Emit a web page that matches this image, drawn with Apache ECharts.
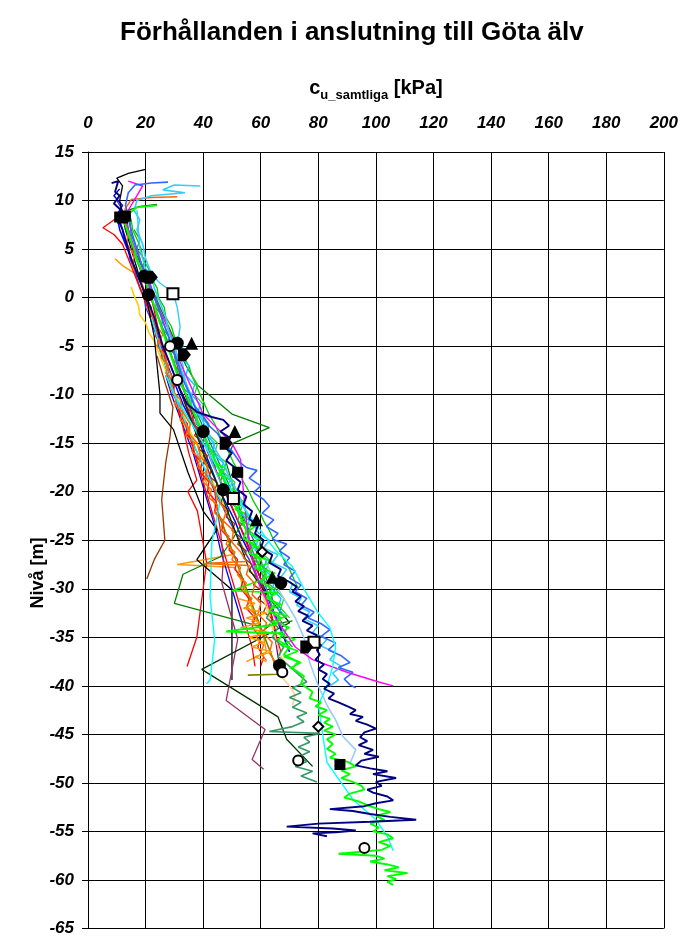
<!DOCTYPE html>
<html><head><meta charset="utf-8">
<script src="https://cdn.jsdelivr.net/npm/echarts/dist/echarts.min.js"></script>
<style>html,body{margin:0;padding:0;background:#fff}#c{width:681px;height:937px}</style>
</head><body><div id="c"></div>
<script>
// ---- axis ticks ----
const xTicks = [0,20,40,60,80,100,120,140,160,180,200];
const yTicks = [15,10,5,0,-5,-10,-15,-20,-25,-30,-35,-40,-45,-50,-55,-60,-65];

// ---- line series: [cu (kPa), level (m)] ----
const navy = [[8.2,11.8],[10.5,12],[9.4,10.9],[11,10.5],[9,9.7],[11.5,9],[10.5,8],[12,7],[13.5,5.5],[15,4],[17,2.5],[19,1],[21,-0.5],[23,-2],[24.5,-3.5],[26,-5],[28,-6.5],[30,-8],[32,-9.5],[34.5,-11],[38,-11.8],[43,-12.3],[47,-12.6],[49,-13.2],[46,-13.8],[49.5,-14.5],[46.5,-15.2],[50,-16],[48,-16.8],[51,-17.5],[50,-18.3],[53,-19],[52,-19.8],[55,-20.5],[54,-21.3],[57,-22],[56,-22.8],[59,-23.5],[58,-24.3],[61,-25],[60,-25.8],[64,-26.5],[63,-27.3],[67,-28],[66,-28.7],[70,-29.3],[72.5,-29.8],[71,-30.3],[74,-30.8],[72,-31.3],[75,-31.8],[73,-32.3],[76.5,-32.8],[74.5,-33.3],[78,-33.8],[76,-34.3],[79.5,-34.8],[78,-35.3],[81,-35.8],[79.5,-36.3],[80.5,-36.8],[79,-37.3],[82,-37.8],[80,-38.3],[83,-38.8],[81.5,-39.3],[84,-39.8],[82,-40.3],[85.5,-40.8],[83.5,-41.3],[87,-41.7],[90,-42.1],[93,-42.5],[91,-42.9],[95.5,-43.2],[93,-43.6],[97,-44],[100,-44.4],[96,-44.8],[94.5,-45.3],[97,-45.7],[94,-46.1],[99,-46.6],[96,-47],[101,-47.3],[95,-47.7],[93,-48.2],[98,-48.5],[104,-48.8],[99,-49.1],[107,-49.5],[100,-49.9],[102,-50.3],[97,-50.7],[99,-51],[104,-51.4],[106,-51.8],[100,-52.1],[96,-52.4],[84,-52.7],[92,-52.9],[98,-53.2],[105,-53.5],[114,-53.8],[98,-54],[80,-54.2],[69,-54.5],[85,-54.7],[93,-54.9],[86,-55.1],[78,-55.2],[83,-55.5]];
const lime = [[24,9.5],[17,9.3],[14,8.6],[13,7.5],[14.5,6.2],[16,5],[17,3.8],[19,2.6],[20.5,1.3],[22,0],[23.5,-1.3],[25,-2.6],[26.5,-4],[28,-5.3],[29.5,-6.6],[31,-8],[33,-9.3],[35,-10.6],[37,-12],[39,-13.3],[41,-14.6],[43,-16],[45,-17.3],[47,-18.6],[49,-20],[51,-21.3],[53,-22.6],[55,-24],[54,-24.8],[58,-25.5],[56,-26.3],[60,-27],[58,-27.8],[62,-28.5],[60,-29.3],[64,-30],[62,-30.8],[65,-31.5],[63,-32.3],[67,-33],[65,-33.7],[48,-34.4],[68,-34.6],[66,-35.3],[70,-36],[68,-36.8],[73,-37.5],[71,-38.2],[75,-39],[74,-39.8],[78,-40.6],[77,-41.3],[81,-41.7],[79,-42.1],[83,-42.5],[80,-43],[84,-43.4],[82,-43.8],[85,-44.2],[82,-44.6],[86,-45],[83,-45.5],[85,-46],[83,-46.5],[86,-47],[84,-47.4],[90,-47.8],[93,-48.3],[88,-48.7],[91,-49.1],[88,-49.5],[92,-49.9],[95,-50.3],[96,-50.7],[91,-51.1],[89,-51.5],[94,-51.9],[97,-52.3],[101,-52.7],[105,-53],[100,-53.4],[103,-53.8],[98,-54.2],[101,-54.6],[99,-55],[104,-55.3],[106,-55.7],[101,-56.1],[105,-56.5],[102,-56.9],[87,-57.3],[100,-57.5],[103,-57.8],[98,-58.1],[104,-58.4],[108,-58.7],[103,-59],[111,-59.3],[104,-59.6],[107,-59.9],[104,-60.2],[106,-60.5]];
const lime2 = [[44,-17],[48,-17.6],[45,-18.2],[50,-18.8],[47,-19.4],[52,-20],[49,-20.6],[54,-21.2],[51,-21.8],[56,-22.4],[53,-23],[58,-23.6],[55,-24.2],[60,-24.8],[56,-25.4],[62,-26],[58,-26.6],[64,-27.2],[59,-27.8],[65,-28.4],[61,-29],[50,-30.2],[66,-30.4],[62,-31],[67,-31.6],[63,-32.2],[69,-32.8],[64,-33.4],[70,-34],[66,-34.6],[72,-35.2],[67,-35.8],[73,-36.4],[68,-37],[74,-37.6],[70,-38.2]];
const royal = [[27.8,11.9],[22,11.8],[16.3,11.6],[14,10.8],[13,9.5],[14.5,8],[15,6.5],[17,5],[18.5,3.5],[21,2],[22.5,0.5],[24.5,-1],[26,-2.5],[28,-4],[29.5,-5.5],[31.5,-7],[33,-8.5],[35.5,-10],[37,-11.2],[40,-12.2],[42,-13.2],[45,-14],[47,-15],[50,-15.8],[52.8,-17],[55,-17.5],[58.7,-17.8],[56,-18.6],[60,-19.4],[57.5,-20.1],[61,-20.8],[63,-21.5],[60.5,-22.2],[64.5,-22.9],[62,-23.6],[66,-24.3],[64,-24.9],[69,-25.4],[66.5,-26.1],[70,-26.8],[68,-27.5],[72,-28.2],[70,-28.9],[74,-29.6],[72,-30.3],[76,-31],[74,-31.7],[78.5,-32.4],[76.5,-33],[81,-33.6],[84,-34.2],[81,-34.9],[86,-35.6],[83.5,-36.3],[88,-36.9],[91,-37.6],[87,-38.1],[92,-38.6],[89,-39.3],[91,-39.9],[93,-40.2]];
const sky = [[39,11.5],[30,11.6],[26,11.1],[33.7,10.8],[22,10.5],[17,10],[16,9],[18,8],[17,7],[19,5.5],[20,4],[22,2.5],[23,1],[25,-0.5],[27,-2],[28,-3.5],[30,-5],[31.5,-6.5],[33,-8],[35,-9.5],[37,-11],[39.5,-12.5],[42,-14],[44,-15.5],[47,-17],[49,-18.5],[52,-20],[54,-21.5],[57,-23],[59,-24.2],[63,-25],[61,-25.8],[66,-26.5],[64,-27.3],[69,-28],[67,-28.8],[71,-29.5],[70,-30.3],[74,-31],[72.5,-31.7],[77,-32.4],[75,-33.1],[80,-33.8],[78,-34.5],[83,-35.2],[81,-35.9],[86,-36.6],[84,-37.3],[88,-38],[85,-38.7],[87,-39.4],[84,-40]];
const skyB = [[17,9],[17.5,7],[18,5],[20,3],[25,1.5],[29.5,0.5],[31,-1],[32,-3],[31,-5],[33,-7],[34,-9],[36,-11],[38,-13],[41,-15],[43,-17],[46,-19]];
const skyC = [[31,-4],[33,-5],[32,-6],[35,-7],[34,-8],[37,-9],[36,-10],[39,-11],[38,-12],[41.5,-13],[40.5,-14],[44,-15],[43,-16],[47,-17],[46,-18],[50,-19],[49,-20],[53,-21],[52,-22],[56,-23],[55,-24],[59,-25],[58,-26],[62,-27],[61,-28],[65,-29],[64,-30],[67,-31],[66,-32],[69,-33]];
const cyanR = [[27,-8],[30,-10],[34,-12],[38,-14],[42,-16],[46,-18],[50,-20],[55,-22],[60,-24],[65,-26],[71,-27.7],[75,-30],[80,-32.5],[84,-34],[86,-36],[85,-38],[83,-40],[80,-42],[81,-44],[83,-47.9],[88,-50],[92,-51.7],[100,-53.8],[104,-55.5],[106,-57]];
const cyanL = [[22,-2],[26,-6],[30,-10],[34,-13],[38,-16],[42,-18.5],[46,-20.8],[43,-25.3],[42.4,-30.8],[44,-35.3],[42.4,-39.4],[41.2,-39.8]];
const magenta = [[14,12],[19,11.5],[17,10.5],[14,9],[13,8],[15,6],[18,4],[20,2],[23,0],[26,-2],[29,-4],[31,-6],[34,-8],[37,-10],[40,-12],[45,-13.5],[50,-15],[53,-16.7],[54,-20],[55,-23],[57,-27],[60,-30],[65.5,-33.2],[72,-36],[78,-37.3],[90,-38.6],[101,-39.6],[106,-40]];
const green = [[24,9.6],[18,9.4],[14,9],[13,7],[16,5],[19,3],[22,1],[25,-1],[28,-3],[31,-5],[34,-7],[38,-9],[42,-10],[46,-11],[50,-12],[63,-13.4],[50.5,-15],[48,-17],[50,-19],[52,-21],[54,-23],[50,-25],[46,-26.7],[33,-28.5],[30,-31.5],[60,-33.9],[71,-33.3]];
const darkGreen = [[30,-8],[35,-12],[40,-16],[46,-20],[51,-24],[56,-28],[63,-31],[70,-33.5],[39.5,-38.3],[66,-43.2],[69,-45.5],[78,-48.3]];
const seaGreen = [[13,8],[15,6],[17,4],[19.5,2],[22,0],[24.5,-2],[27,-4],[29,-6],[31.5,-8],[34,-10],[37,-12],[40,-14],[43,-16],[46,-18],[49,-20],[52,-22],[55,-24],[57,-26],[60,-28],[62,-30],[64,-32],[62,-33],[66,-34],[64,-35],[68,-36],[66,-37],[70,-38],[76,-39.6],[71,-40.2],[74,-40.7],[70,-41.2],[74,-41.7],[71,-42.2],[76,-42.8],[72.5,-43.2],[75,-43.7],[71,-44.2],[63,-44.7],[80.6,-44.9],[75,-45.3],[77,-45.8],[73,-46.3],[77,-46.8],[73,-47.3],[76,-47.8],[72,-48.3],[78,-48.8],[74,-49.3],[79.5,-49.9]];
const maroon = [[30,-6],[33,-9],[36,-12],[40,-16],[44,-20],[46,-24],[47,-27],[46.5,-29.4],[52,-35.2],[48,-41.5],[61.5,-44.5],[57,-47.6],[61,-48.6]];
const redL = [[22,0],[25,-4],[28,-8],[32,-12],[35,-16],[37.8,-18.8],[34.7,-20],[38,-22],[41.2,-27.3],[40,-30],[37.8,-35],[34.4,-38]];
const red = [[12,9],[9,8],[5.2,7.2],[9,6.5],[12,5.5],[14,4],[16,2.5],[18,1],[20,-0.5],[22,-2],[24,-3.5],[26,-5],[28,-6.5],[30,-8],[32,-9.5],[34,-11],[36,-12.5],[38.5,-14],[41,-15.5],[43,-17],[45.5,-18.5],[47.5,-20],[50,-21.5],[52,-23],[54,-24.5],[56,-26],[58,-27.5],[60,-29],[61.5,-30.5],[63,-32],[64.5,-33.5],[65.5,-35],[67,-36.5]];
const red2 = [[20,0],[22,-1],[21.5,-2],[24,-3],[23.5,-4],[26,-5],[25.5,-6],[28,-7],[27.5,-8],[30,-9],[29.5,-10],[32,-11],[31.5,-12],[34.5,-13],[34,-14],[37,-15],[36.5,-16],[39.5,-17],[39,-18],[42,-19],[41.5,-20],[44.5,-21],[44,-22],[47,-23],[46.5,-24],[49.5,-25],[49,-26],[52,-27],[51,-28],[54,-29],[53,-30],[56,-31],[55,-32],[58,-33],[57,-34],[60,-35],[59,-36],[61,-37],[60,-38]];
const red3 = [[26,-6],[28,-8],[30,-10],[32.5,-12],[35,-14],[37,-16],[39,-18],[41,-20],[43,-22],[45,-24],[47,-26],[49,-28],[51,-30],[53,-32],[55,-34],[57,-36],[58,-38]];
const brownL = [[24,-6],[27,-9],[29.5,-11.3],[28.5,-14.3],[27,-17],[25.6,-20.8],[26.7,-25],[23,-27],[20.4,-29]];
const brown2 = [[34,-10],[36,-10.7],[34.5,-11.4],[37,-12.1],[35.5,-12.8],[38.5,-13.5],[37,-14.2],[40,-14.9],[38.5,-15.6],[41.5,-16.3],[40,-17],[43,-17.7],[42,-18.4],[45,-19.1],[44,-19.8],[47,-20.5],[46,-21.2],[49,-21.9],[48,-22.6],[51,-23.3],[50,-24],[53,-24.7],[52,-25.4],[55,-26.1],[54,-26.8],[57,-27.5],[56,-28.2],[59,-28.9],[57.5,-29.6],[61,-30.3],[59,-31],[62,-31.7],[61,-32.4],[64,-33.1],[63,-33.8],[60,-34.5]];
const blackL = [[20,13.2],[14,12.8],[10,12.3],[12,11.5],[11,10],[12,8.5],[13,7],[15,5],[17,3],[19,1],[21,-1],[23,-4],[24,-7],[25,-10],[25,-11.9],[29.7,-13.6],[34.7,-18],[40,-22],[44.8,-23.9],[37.8,-27],[50,-30.1],[50,-39.4]];
const blue = [[11,11.2],[9,10.5],[12,9.5],[10,8.5],[11,7],[13,5.5],[15,4],[17,2.5],[19,1],[21,-0.5],[22.5,-2],[24,-3.5],[25.5,-5],[27,-6.5],[29,-8],[31,-9.5],[33,-11],[35.5,-12.5],[38,-14],[40,-15.5],[42,-17],[44,-18.5],[46,-20],[48.5,-21.5],[51,-23],[53,-24.5],[55.5,-26],[58,-27.5],[60,-29],[62,-30.5],[64,-32],[66,-33.5],[68,-35],[70,-36.5]];
const blue2 = [[10,10],[12,9],[11,8],[12,7],[12.5,6],[14,5],[14.5,4],[16,3],[17,2],[18,1],[19.5,0],[20,-1],[21.5,-2],[22.5,-3],[24,-4],[24.5,-5],[26,-6],[27,-7],[28,-8],[29.5,-9],[30,-10],[31.5,-11],[32.5,-12],[34,-13],[35,-14],[36.5,-15],[38,-16],[39.5,-17],[41,-18],[42.5,-19],[44,-20],[46,-21],[47.5,-22],[49,-23],[51,-24],[52.5,-25],[54,-26],[56,-27],[57.5,-28],[59,-29],[61,-30],[62.5,-31],[64,-32],[65.5,-33],[67,-34],[68,-35],[69.5,-36]];
const blue3 = [[27,-8],[29,-10],[31.5,-12],[34,-14],[36.5,-16],[38.5,-18],[40.5,-20],[42.5,-22],[44.5,-24],[46,-26],[48,-28],[50,-30],[52,-32],[54,-34]];
const orangeRed = [[31,10.4],[22,10.3],[15,10.1],[13,9.2],[12,8],[14,6.8],[13.5,5.5],[16,4.4],[15.5,3.2],[18,2],[19.5,0.8],[21,-0.4],[22,-1.6],[23.5,-2.8],[25,-4],[24,-5],[27,-6],[27.5,-7.2],[29.5,-8.3],[29,-9.5],[32,-10.5],[33,-11.8],[35.5,-13],[35,-14],[38,-15],[39,-16.3],[41.5,-17.4],[41,-18.5],[44,-19.6],[45,-20.8],[48,-22],[47,-23],[50.5,-24],[50,-25.2],[53,-26.2],[55,-27.2],[40,-27.4],[56,-27.6],[55,-28.5],[58,-29.5],[57,-30.6],[60,-31.5],[59,-32.6],[62,-33.5],[61,-34.6],[64,-35.5],[63,-36.6],[65,-37.5]];
const orangeRed2 = [[24,-3],[26,-3.8],[24.5,-4.6],[27,-5.4],[25.5,-6.2],[28,-7],[27,-7.8],[30,-8.6],[28.5,-9.4],[31,-10.2],[30,-11],[33,-11.8],[32,-12.6],[35,-13.4],[34,-14.2],[37,-15],[36,-15.8],[39,-16.6],[38,-17.4],[41,-18.2],[40,-19],[43,-19.8],[42,-20.6],[45,-21.4],[44,-22.2],[47,-23],[46,-23.8],[49,-24.6],[48,-25.4],[51,-26.2],[50,-27],[53,-27.8],[52,-28.6],[55,-29.4],[53.5,-30.2],[57,-31],[55,-31.8],[58,-32.6],[57,-33.4],[60,-34.2],[58.5,-35],[61,-35.8],[60,-36.6],[62,-37.4]];
const orange = [[9.4,4],[12,3.3],[16.3,2.5],[17.5,1.5],[19,0.5],[20,-0.5],[21.5,-1.5],[22.5,-2.5],[24,-4],[25,-5.5],[27,-7],[28,-8.5],[30,-10],[31.5,-11.5],[33.5,-13],[35.5,-14.5],[37,-16],[39,-17.5],[41,-19],[43,-20.5],[45,-22],[47,-23.5],[49,-25],[50,-26.5],[31,-27.5],[51,-27.8],[53,-29],[55,-30.5],[57,-32],[59,-33.5],[61,-35],[62,-36.5],[55,-37.5]];
const orange2 = [[52,-31],[58,-31.5],[54,-32],[62,-32.5],[55,-33],[60,-33.5],[53,-34],[63,-34.5],[56,-35],[61,-35.5],[57,-36],[64,-36.5],[58,-37],[62,-37.5]];
const gold = [[15,1.1],[16,0.2],[17.5,-0.8],[18,-1.8],[20,-2.6],[21,-3.5],[23,-4.5],[25,-6],[27,-7.5],[29,-9],[31,-10.5],[33,-12],[35,-13.5],[37.5,-15],[40,-16.5],[42,-18],[44,-19.5],[46.5,-21],[49,-22.5],[51,-24],[53.5,-25.5],[56,-27],[58,-28.5],[60,-30],[62,-31.5],[63.5,-33],[65,-34.5],[66,-36],[67,-37],[69,-37.8]];
const teal = [[14,8],[16,6],[18,4],[20,2],[23,0],[25.5,-2],[28,-4],[30.5,-6],[33,-8],[35.5,-10],[38,-12],[41,-14],[44,-16],[47,-18],[50,-20],[53,-22],[56,-24],[59,-26],[61,-28],[63,-30],[65,-32]];
const purple = [[13,9],[14,7],[15.5,5],[18,3],[20.5,1],[23,-1],[25.5,-3],[28,-5],[30,-7],[32.5,-9],[35,-11],[38,-13],[41,-15],[43.5,-17],[46,-19],[49,-21],[52,-23],[55,-25],[57.5,-27],[60,-29],[62,-31],[64,-33],[65,-35],[66,-37],[67,-38.5]];
const midGreen = [[16,7],[18,6],[17,5],[19.5,4],[19,3],[21.5,2],[21,1],[24,0],[23.5,-1],[26,-2],[25.5,-3],[28,-4],[27.5,-5],[30.5,-6],[30,-7],[33,-8],[32,-9],[35.5,-10],[35,-11],[38,-12],[37.5,-13],[41,-14],[40,-15],[44,-16],[43,-17],[47,-18],[46,-19],[50,-20],[49,-21],[53,-22],[52,-23],[56,-24],[55,-25],[59,-26],[57.5,-27],[62,-28],[60.5,-29],[65,-30],[63.5,-31],[67,-32],[66,-33],[69,-34],[68,-35],[71,-36]];
const brightGreen = [[14,9],[15,8],[15.5,7],[17,6],[18.5,5],[19,4],[21,3],[22,2],[24,1],[24.5,0],[26.5,-1],[27,-2],[29,-3],[30,-4],[32,-5],[33,-6],[35,-7],[36,-8],[37.5,-9],[39,-10],[40.5,-11],[42,-12],[44,-13],[45.5,-14],[47,-15],[49,-16],[50.5,-17],[52.5,-18],[54,-19],[56,-20],[57.5,-21],[59.5,-22],[61,-23],[63,-24],[64.5,-25],[66.5,-26],[68,-27],[70,-28],[71.5,-29],[73,-30]];
const green3 = [[36,-8],[38,-9],[37,-10],[40,-11],[39,-12],[42,-13],[41.5,-14],[45,-15],[44,-16],[48,-17],[47,-18],[51,-19],[50,-20],[54,-21],[53,-22],[57,-23],[56,-24],[60,-25],[59,-26],[63,-27],[62,-28],[66,-29],[65,-30],[68,-31],[67,-32],[70,-33]];
const lightBlue = [[60,-26],[66,-30],[72,-33],[75,-35],[77,-37.6],[80,-40],[83,-42],[86,-43.5],[88.5,-45.2],[93,-46.6],[91,-48]];
const olive = [[45,-22],[50,-26],[55,-30],[60,-34],[64,-37],[66,-38.8],[55.5,-38.9]];
const tan = [[60,-30],[63,-33],[66,-36],[68,-38],[67,-39],[70,-40],[72,-41],[71,-42]];

// ---- markers: [cu, level] ----
const filledSquares = [[11,8.3],[13,8.4],[12,8.2],[52,-18],[87.5,-48.1]];
const openSquares = [[29.5,0.4],[50.5,-20.7],[78.5,-35.5]];
const filledCircles = [[19.5,2.2],[21,0.3],[31,-4.7],[40,-13.8],[47,-19.8],[67,-29.4],[66.5,-37.9]];
const filledTriangles = [[36,-4.7],[51,-13.8],[58.5,-22.9],[64,-28.8]];
const pentagons = [[22,2.1],[33.5,-5.9],[48,-15],[76,-36]];
const openCircles = [[28.5,-5],[31,-8.5],[67.5,-38.6],[73,-47.7],[96,-56.7]];
const openDiamonds = [[60.5,-26.2],[80,-44.2]];

const lines = [
  [teal,'#008080',1.3],[purple,'#800080',1.3],[gold,'#ffcc00',1.5],[orange,'#ff9900',1.5],
  [blue2,'#3333ff',1.3],[blue3,'#0000ff',1.3],[blue,'#0000ff',1.5],[red,'#ff0000',1.3],[red2,'#ff0000',1.3],
  [red3,'#ff0000',1.3],[redL,'#ff0000',1.3],
  [brownL,'#993300',1.3],[brown2,'#993300',1.3],[blackL,'#000000',1.3],[maroon,'#993366',1.3],
  [darkGreen,'#003300',1.3],[green,'#008000',1.3],[midGreen,'#339933',1.3],[brightGreen,'#00cc00',1.3],
  [green3,'#33cc33',1.3],
  [olive,'#808000',1.6],[tan,'#ffcc99',1.5],[lightBlue,'#99ccff',1.6],[cyanL,'#00ffff',1.4],
  [skyB,'#33ccff',1.4],[skyC,'#00ccff',1.4],[seaGreen,'#339966',1.6],[lime2,'#00ff00',1.6],[orangeRed,'#ff6600',1.5],
  [orangeRed2,'#ff6600',1.4],[orange2,'#ff9900',1.5],
  [magenta,'#ff00ff',1.4],[sky,'#33ccff',1.6],[royal,'#3366ff',1.6],[cyanR,'#00ffff',1.4],
  [lime,'#00ff00',1.9],[navy,'#000080',1.9]
];

const series = lines.map(([d,c,w]) => ({
  type:'line', data:d, symbol:'none', lineStyle:{color:c,width:w}, itemStyle:{color:c},
  silent:true, animation:false, z:2
}));
const pent = 'path://M0,0 L6,0 L10,5 L6,10 L0,10 Z';
const marks = [
  [filledSquares,'rect',11,false],[openSquares,'emptyRect',11,true],
  [filledCircles,'circle',13,false],[filledTriangles,'triangle',13,false],
  [pentagons,pent,13,false],[openCircles,'emptyCircle',10,true],[openDiamonds,'emptyDiamond',10,true]
];
marks.forEach(([d,s,sz,empty]) => series.push({
  type:'scatter', data:d, symbol:s, symbolSize:sz, z:5, silent:true, animation:false,
  itemStyle: empty ? {color:'#000', borderColor:'#000', borderWidth:1.5, opacity:1} : {color:'#000', opacity:1}
}));

const FONT = '"Liberation Sans", Arial, sans-serif';
const chart = echarts.init(document.getElementById('c'), null, {renderer:'canvas'});
chart.setOption({
  backgroundColor:'#fff',
  animation:false,
  title:{text:'Förhållanden i anslutning till Göta älv', left:115, top:15,
    textStyle:{fontFamily:FONT, fontSize:26, fontWeight:'bold', color:'#000'}},
  grid:{left:88, right:16.5, top:152, bottom:8},
  graphic:[{type:'text', x:38, y:573, rotation:Math.PI/2,
    style:{text:'Nivå [m]', fontFamily:FONT, fontSize:18, fontWeight:'bold', fill:'#000',
      align:'center', verticalAlign:'middle'}}],
  xAxis:{type:'value', position:'top', min:xTicks[0], max:xTicks[xTicks.length-1], interval:20,
    name:'{c|c}{s|u_samtliga}{c| [kPa]}', nameLocation:'middle', nameGap:50,
    nameTextStyle:{rich:{
      c:{fontFamily:FONT, fontSize:20, fontWeight:'bold', color:'#000', lineHeight:24, verticalAlign:'top'},
      s:{fontFamily:FONT, fontSize:13, fontWeight:'bold', color:'#000', lineHeight:13, verticalAlign:'bottom'}}},
    axisLine:{show:true, lineStyle:{color:'#000', width:1}},
    axisTick:{show:false},
    axisLabel:{margin:20, fontFamily:FONT, fontSize:17, fontWeight:'bold', fontStyle:'italic', color:'#000'},
    splitLine:{show:true, lineStyle:{color:'#000', width:1}}},
  yAxis:{type:'value', min:yTicks[yTicks.length-1], max:yTicks[0], interval:5,
    axisLine:{show:true, lineStyle:{color:'#000', width:1}},
    axisTick:{show:true, length:6, lineStyle:{color:'#000'}},
    axisLabel:{margin:14, fontFamily:FONT, fontSize:17, fontWeight:'bold', fontStyle:'italic', color:'#000'},
    splitLine:{show:true, lineStyle:{color:'#000', width:1}}},
  series
});
</script></body></html>
